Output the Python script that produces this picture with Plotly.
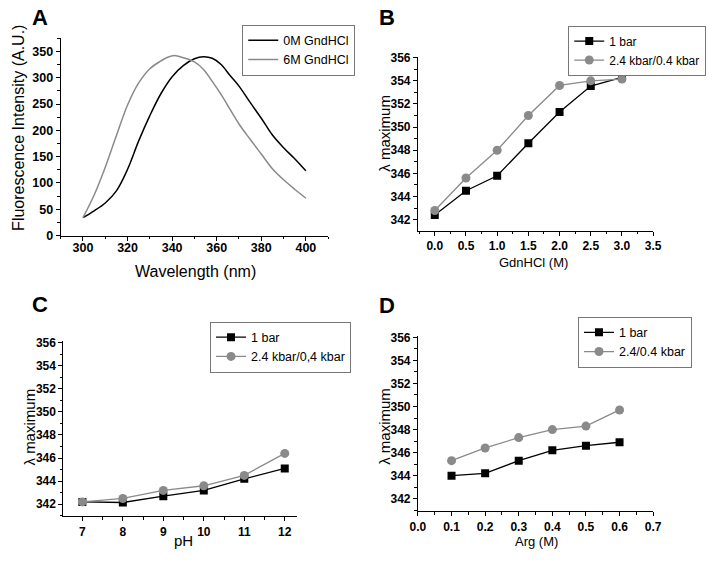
import plotly.graph_objects as go

FONT = "Liberation Sans, Arial, sans-serif"
BLACK = "#000000"
GRAY = "#8a8a8a"

# Panel A: fluorescence spectra
wl_0m = [300, 305, 310, 315, 320, 325, 330, 335, 340, 345, 350, 354, 358, 362, 366, 370, 375, 380, 385, 390, 395, 400]
int_0m = [34, 47, 62, 85, 126, 180, 228, 270, 302, 323, 336, 340, 337, 325, 304, 284, 253, 223, 191, 167, 146, 123]
wl_6m = [300, 305, 310, 315, 320, 325, 330, 335, 338, 341, 345, 350, 354, 358, 362, 366, 370, 375, 380, 385, 390, 395, 400]
int_6m = [34, 77, 130, 190, 248, 290, 317, 332, 339, 342, 338, 330, 316, 293, 268, 240, 212, 183, 155, 127, 106, 88, 71]

# Panel B: GdnHCl
gdn = [0, 0.5, 1.0, 1.5, 2.0, 2.5, 3.0]
gdn_1bar = [342.4, 344.5, 345.8, 348.6, 351.3, 353.55, 354.3]
gdn_hp = [342.8, 345.6, 348.0, 351.0, 353.6, 354.0, 354.15]

# Panel C: pH
ph = [7, 8, 9, 10, 11, 12]
ph_1bar = [342.2, 342.15, 342.7, 343.2, 344.2, 345.1]
ph_hp = [342.2, 342.5, 343.2, 343.6, 344.5, 346.4]

# Panel D: Arg
arg = [0.1, 0.2, 0.3, 0.4, 0.5, 0.6]
arg_1bar = [344.0, 344.2, 345.3, 346.2, 346.6, 346.9]
arg_hp = [345.3, 346.4, 347.3, 348.0, 348.3, 349.7]

# Tick labels
ticks_wl = [300, 320, 340, 360, 380, 400]
ticks_int = [0, 50, 100, 150, 200, 250, 300, 350]
ticks_gdn = [0.0, 0.5, 1.0, 1.5, 2.0, 2.5, 3.0, 3.5]
ticks_ph = [7, 8, 9, 10, 11, 12]
ticks_arg = [0.0, 0.1, 0.2, 0.3, 0.4, 0.5, 0.6, 0.7]
ticks_lam = [342, 344, 346, 348, 350, 352, 354, 356]

W, H = 709, 564

def px(x):
    return x / W

def py(y):
    return 1 - y / H

fig = go.Figure()

fig.add_trace(go.Scatter(x=wl_0m, y=int_0m, mode="lines", name="0M GndHCl",
                         line=dict(color=BLACK, width=1.5, shape="spline"),
                         xaxis="x", yaxis="y", legend="legend"))
fig.add_trace(go.Scatter(x=wl_6m, y=int_6m, mode="lines", name="6M GndHCl",
                         line=dict(color=GRAY, width=1.5, shape="spline"),
                         xaxis="x", yaxis="y", legend="legend"))

def pair(xv, y1, y2, name2, ax, leg):
    fig.add_trace(go.Scatter(x=xv, y=y1, mode="lines+markers", name="1 bar",
                             line=dict(color=BLACK, width=1.3),
                             marker=dict(symbol="square", size=8, color=BLACK),
                             xaxis="x" + ax, yaxis="y" + ax, legend=leg))
    fig.add_trace(go.Scatter(x=xv, y=y2, mode="lines+markers", name=name2,
                             line=dict(color=GRAY, width=1.3),
                             marker=dict(symbol="circle", size=9, color=GRAY),
                             xaxis="x" + ax, yaxis="y" + ax, legend=leg))

pair(gdn, gdn_1bar, gdn_hp, "2.4 kbar/0.4 kbar", "2", "legend2")
pair(ph, ph_1bar, ph_hp, "2.4 kbar/0,4 kbar", "3", "legend3")
pair(arg, arg_1bar, arg_hp, "2.4/0.4 kbar", "4", "legend4")

def axis(domain, rng, vals, fmt, minor_dtick, anchor, size=12, standoff=0):
    return dict(domain=domain, range=rng,
                tickvals=vals, ticktext=["<b>" + format(v, fmt) + "</b>" for v in vals],
                showline=True, linecolor=BLACK, linewidth=1,
                ticks="outside", ticklen=4, tickcolor=BLACK, tickwidth=1,
                minor=dict(ticks="outside", ticklen=2.5, dtick=minor_dtick, tick0=vals[0], tickcolor=BLACK),
                showgrid=False, zeroline=False,
                tickfont=dict(family=FONT, size=size, color=BLACK),
                ticklabelstandoff=standoff,
                anchor=anchor)

layout = dict(
    width=W, height=H, margin=dict(l=0, r=0, t=0, b=0),
    paper_bgcolor="white", plot_bgcolor="white", showlegend=True,
    xaxis=axis([px(54), px(328)], [290, 410], ticks_wl, "d", 10, "y", 12.5, -4),
    yaxis=axis([py(235), py(33)], [0, 375], ticks_int, "d", 25, "x", 12.5),
    xaxis2=axis([px(420), px(661)], [-0.27, 3.5], ticks_gdn, ".1f", 0.25, "y2"),
    yaxis2=axis([py(230), py(51.7)], [341.05, 356.1], ticks_lam, "d", 1, "x2"),
    xaxis3=axis([px(56.7), px(296)], [6.53, 12.3], ticks_ph, "d", 0.5, "y3"),
    yaxis3=axis([py(522.3), py(343.3)], [340.96, 356.1], ticks_lam, "d", 1, "x3"),
    xaxis4=axis([px(420), px(661)], [0, 0.7], ticks_arg, ".1f", 0.05, "y4", 12, 0),
    yaxis4=axis([py(517.3), py(338)], [340.9, 356.1], ticks_lam, "d", 1, "x4"),
)

def legend(x, y, size, anchor="left"):
    return dict(x=px(x), y=py(y), xanchor=anchor, yanchor="top",
                bordercolor="#777777", borderwidth=1, bgcolor="white",
                font=dict(family=FONT, size=size, color=BLACK),
                itemwidth=30, tracegroupgap=0, itemclick=False)

layout["legend"] = legend(240, 19, 12.5)
layout["legend2"] = legend(574, 20, 12)
layout["legend3"] = legend(207, 323, 12.5)
layout["legend4"] = legend(584, 318, 12.5)

fig.update_layout(**layout)

def ann(text, x, y, size, angle=0, bold=False):
    fig.add_annotation(text=text, x=px(x), y=py(y), xref="paper", yref="paper",
                       xanchor="center", yanchor="middle", showarrow=False, textangle=angle,
                       font=dict(family=FONT, size=size, color=BLACK, weight="bold" if bold else "normal"))

# panel letters
ann("A", 33, 12, 22, bold=True)
ann("B", 388, 12, 22, bold=True)
ann("C", 33, 306, 22, bold=True)
ann("D", 388, 307, 22, bold=True)

# axis titles
ann("Wavelength (nm)", 192, 271.5, 16)
ann("Fluorescence Intensity (A.U.)", 10, 125, 16, angle=-90)
ann("GdnHCl (M)", 538, 263, 13)
ann("λ maximum", 385, 130, 15, angle=-90)
ann("pH", 180, 547, 15)
ann("λ maximum", 22, 431, 15, angle=-90)
ann("Arg (M)", 541.7, 548, 13)
ann("λ maximum", 385, 430, 15, angle=-90)

fig.write_html("out.html", config={"displayModeBar": False},
               post_script="document.body.style.margin='0';document.body.style.overflow='hidden';")
